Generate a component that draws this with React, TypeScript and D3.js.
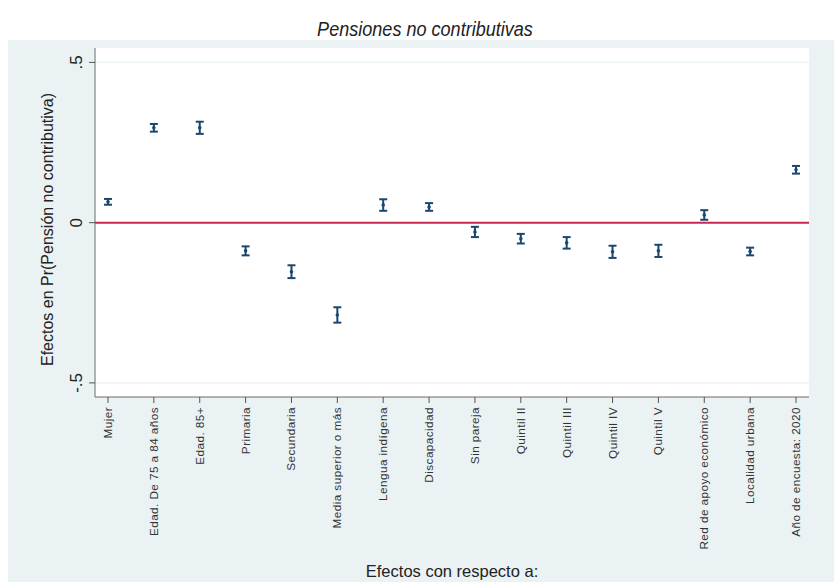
import React from "react";
import * as d3 from "d3";

// Marginal effects with 95% confidence intervals
const categories = [
  "Mujer",
  "Edad. De 75 a 84 años",
  "Edad. 85+",
  "Primaria",
  "Secundaria",
  "Media superior o más",
  "Lengua indígena",
  "Discapacidad",
  "Sin pareja",
  "Quintil II",
  "Quintil III",
  "Quintil IV",
  "Quintil V",
  "Red de apoyo económico",
  "Localidad urbana",
  "Año de encuesta: 2020",
];
const estimates = [0.065, 0.296, 0.296, -0.088, -0.153, -0.288, 0.055, 0.049, -0.029, -0.05, -0.063, -0.091, -0.088, 0.024, -0.09, 0.165];
const lower = [0.056, 0.284, 0.277, -0.102, -0.173, -0.312, 0.037, 0.037, -0.045, -0.065, -0.081, -0.11, -0.107, 0.009, -0.102, 0.153];
const upper = [0.074, 0.308, 0.315, -0.074, -0.133, -0.264, 0.073, 0.061, -0.013, -0.035, -0.045, -0.072, -0.069, 0.039, -0.078, 0.177];
const yTicks = [-0.5, 0, 0.5];
const yTickLabels = ["-.5", "0", ".5"];

const W = 834;
const H = 582;
const plot = { left: 95, right: 809, top: 48, bottom: 397 };
const navy = "#1a476f";
const font = "'Liberation Sans', Arial, sans-serif";

export default function App() {
  const x = d3.scalePoint<string>().domain(categories).range([108, 796]).padding(0);
  const y = d3.scaleLinear().domain([-0.544, 0.545]).range([plot.bottom, plot.top]);
  const capHalf = 4;

  return (
    <div style={{ position: "absolute", left: 0, top: 0 }}>
      <svg width={W} height={H} style={{ display: "block", background: "#ffffff" }}>
        {/* graph region */}
        <rect x={8} y={40} width={W - 8} height={H - 40} fill="#eaf2f3" />
        {/* plot region */}
        <rect x={plot.left} y={plot.top} width={plot.right - plot.left} height={plot.bottom - plot.top} fill="#ffffff" />

        <text
          transform="translate(425,36) scale(0.86,1)"
          textAnchor="middle"
          fontFamily={font}
          fontStyle="italic"
          fontSize={21}
          fill="#222"
        >
          Pensiones no contributivas
        </text>

        {/* grid lines */}
        {yTicks.filter((t) => t !== 0).map((t) => (
          <line key={t} x1={plot.left} x2={plot.right} y1={y(t)} y2={y(t)} stroke="#eaf2f3" strokeWidth={1.2} />
        ))}

        {/* zero reference line */}
        <line x1={plot.left} x2={plot.right} y1={y(0)} y2={y(0)} stroke="#c8284e" strokeWidth={2} />

        {/* axes */}
        <line x1={plot.left} x2={plot.left} y1={plot.top} y2={plot.bottom} stroke="#6b6b6b" strokeWidth={1} />
        <line x1={plot.left} x2={plot.right} y1={plot.bottom} y2={plot.bottom} stroke="#6b6b6b" strokeWidth={1} />

        {yTicks.map((t, i) => (
          <g key={t}>
            <line x1={plot.left - 6} x2={plot.left} y1={y(t)} y2={y(t)} stroke="#555" strokeWidth={1} />
            <text
              transform={`translate(${plot.left - 13},${y(t)}) rotate(-90)`}
              textAnchor="middle"
              fontFamily={font}
              fontSize={17}
              fill="#222"
            >
              {yTickLabels[i]}
            </text>
          </g>
        ))}

        <text
          transform={`translate(53,${(plot.top + plot.bottom) / 2 + 7}) rotate(-90)`}
          textAnchor="middle"
          fontFamily={font}
          fontSize={16}
          fill="#222"
        >
          Efectos en Pr(Pensión no contributiva)
        </text>

        {categories.map((c) => (
          <g key={c}>
            <line x1={x(c)!} x2={x(c)!} y1={plot.bottom} y2={plot.bottom + 6} stroke="#555" strokeWidth={1} />
            <text
              transform={`translate(${x(c)! + 4},${plot.bottom + 10}) rotate(-90)`}
              textAnchor="end"
              fontFamily={font}
              fontSize={11.8}
              letterSpacing={0.4}
              fill="#333"
            >
              {c}
            </text>
          </g>
        ))}

        <text x={452} y={577} textAnchor="middle" fontFamily={font} fontSize={16.5} fill="#222">
          Efectos con respecto a:
        </text>

        {/* confidence intervals and point estimates */}
        {categories.map((c, i) => {
          const cx = x(c)!;
          return (
            <g key={c} stroke={navy} strokeWidth={2}>
              <line x1={cx} x2={cx} y1={y(lower[i])} y2={y(upper[i])} />
              <line x1={cx - capHalf} x2={cx + capHalf} y1={y(lower[i])} y2={y(lower[i])} />
              <line x1={cx - capHalf} x2={cx + capHalf} y1={y(upper[i])} y2={y(upper[i])} />
              <circle cx={cx} cy={y(estimates[i])} r={1.8} fill={navy} stroke="none" />
            </g>
          );
        })}
      </svg>
    </div>
  );
}
